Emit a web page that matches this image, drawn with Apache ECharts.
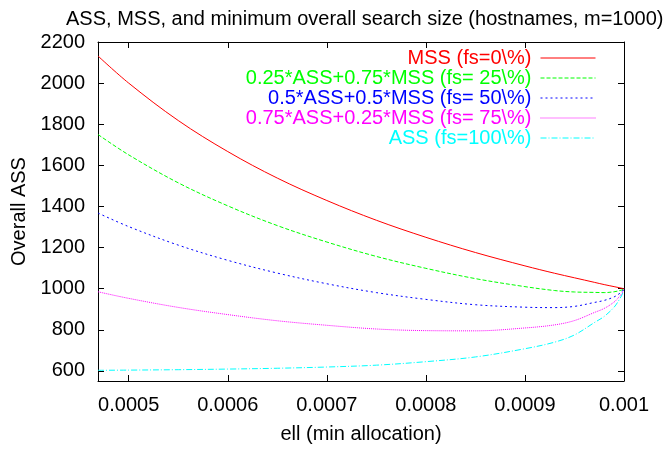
<!DOCTYPE html>
<html>
<head>
<meta charset="utf-8">
<script src="https://cdn.jsdelivr.net/npm/echarts@6/dist/echarts.min.js"></script>
<style>
html,body{margin:0;padding:0;background:#fff;}
#chart{width:663px;height:449px;}
</style>
</head>
<body>
<div id="chart"></div>
<script>
// x values (ell, min allocation)
var ell = [0.000469, 0.0005, 0.00055, 0.0006, 0.00065, 0.0007, 0.00075, 0.0008, 0.00085, 0.0009, 0.00093, 0.00095, 0.00097, 0.00098, 0.00099, 0.000995, 0.000998, 0.001];
// series values
var mss   = [2132, 2000, 1818, 1667, 1538, 1429, 1333, 1250, 1176, 1111, 1075, 1053, 1031, 1020, 1010, 1005, 1002, 1000];
var fs25  = [1750, 1651, 1515, 1403, 1307, 1227, 1157, 1099, 1049, 1010, 991, 984, 982, 981, 985, 990, 994, 1000];
var fs50  = [1368, 1302, 1212, 1138, 1076, 1024, 981, 948, 922, 910, 908, 914, 933, 943, 960, 975, 986, 1000];
var fs75  = [985, 953, 909, 874, 844, 822, 804, 796, 795, 809, 824, 845, 884, 904, 935, 960, 978, 1000];
var ass   = [603, 604, 606, 609, 613, 619, 628, 645, 668, 708, 740, 775, 835, 865, 910, 945, 970, 1000];
// tick labels
var xTicks = [0.0005, 0.0006, 0.0007, 0.0008, 0.0009, 0.001];
var yTicks = [600, 800, 1000, 1200, 1400, 1600, 1800, 2000, 2200];
var seriesNames = ['MSS (fs=0\\%)', '0.25*ASS+0.75*MSS (fs= 25\\%)', '0.5*ASS+0.5*MSS (fs= 50\\%)', '0.75*ASS+0.25*MSS (fs= 75\\%)', 'ASS (fs=100\\%)'];

var colors = ['#ff0000', '#00ff00', '#0000ff', '#ff00ff', '#00ffff'];
var dashes = ['solid', [4, 2], [2, 3], [1, 1], [6, 2, 1, 2]];
var values = [mss, fs25, fs50, fs75, ass];
var FONT = '"Liberation Sans", Arial, sans-serif';
var FS = 20;

var chart = echarts.init(document.getElementById('chart'), null, {renderer: 'canvas'});

function pairs(v) { return ell.map(function (x, i) { return [x, v[i]]; }); }

var series = values.map(function (v, i) {
  return {
    name: seriesNames[i],
    type: 'line',
    data: pairs(v),
    showSymbol: false,
    symbol: 'none',
    smooth: 0.35,
    color: colors[i],
    lineStyle: {color: colors[i], width: 1, type: dashes[i]},
    z: 10 - i,
    animation: false
  };
});

var xFmt = function (v) { return String(+(+v).toFixed(4)); };
var yFmt = function (v) { return String(v); };

var option = {
  animation: false,
  backgroundColor: '#fff',
  textStyle: {fontFamily: FONT},
  title: {
    text: 'ASS, MSS, and minimum overall search size (hostnames, m=1000)',
    left: 61, top: 4,
    textStyle: {fontFamily: FONT, fontSize: FS, fontWeight: 'normal', color: '#000'}
  },
  grid: {left: 98, right: 39, top: 42, bottom: 66, show: false},
  legend: {
    orient: 'vertical',
    right: 62,
    top: 43,
    align: 'right',
    itemWidth: 55,
    itemHeight: 14,
    itemGap: 0,
    itemStyle: {opacity: 0},
    lineStyle: {width: 1},
    textStyle: {fontFamily: FONT, fontSize: FS, lineHeight: 20, padding: [0, 4, 0, 0]},
    data: seriesNames.map(function (n, i) { return {name: n, textStyle: {color: colors[i]}}; })
  },
  xAxis: [{
    type: 'value',
    min: 0.000469, max: 0.001,
    name: 'ell (min allocation)',
    nameLocation: 'middle',
    nameGap: 43,
    nameTextStyle: {fontFamily: FONT, fontSize: FS, color: '#000'},
    axisLine: {show: true, onZero: false, lineStyle: {color: '#000', width: 1}},
    axisTick: {show: true, inside: true, length: 6, customValues: xTicks, lineStyle: {color: '#000'}},
    axisLabel: {show: true, margin: 14, customValues: xTicks, formatter: xFmt, fontFamily: FONT, fontSize: FS, color: '#000'},
    splitLine: {show: false}
  }, {
    type: 'value',
    position: 'top',
    min: 0.000469, max: 0.001,
    axisLine: {show: true, onZero: false, lineStyle: {color: '#000', width: 1}},
    axisTick: {show: true, inside: true, length: 6, customValues: xTicks, lineStyle: {color: '#000'}},
    axisLabel: {show: false},
    splitLine: {show: false}
  }],
  yAxis: [{
    type: 'value',
    min: 551, max: 2200,
    name: 'Overall ASS',
    nameLocation: 'middle',
    nameGap: 68,
    nameTextStyle: {fontFamily: FONT, fontSize: FS, color: '#000'},
    axisLine: {show: true, onZero: false, lineStyle: {color: '#000', width: 1}},
    axisTick: {show: true, inside: true, length: 6, customValues: yTicks, lineStyle: {color: '#000'}},
    axisLabel: {show: true, margin: 13, customValues: yTicks, formatter: yFmt, fontFamily: FONT, fontSize: FS, color: '#000'},
    splitLine: {show: false}
  }, {
    type: 'value',
    position: 'right',
    min: 551, max: 2200,
    axisLine: {show: true, onZero: false, lineStyle: {color: '#000', width: 1}},
    axisTick: {show: true, inside: true, length: 6, customValues: yTicks, lineStyle: {color: '#000'}},
    axisLabel: {show: false},
    splitLine: {show: false}
  }],
  series: series
};
chart.setOption(option);
</script>
</body>
</html>
